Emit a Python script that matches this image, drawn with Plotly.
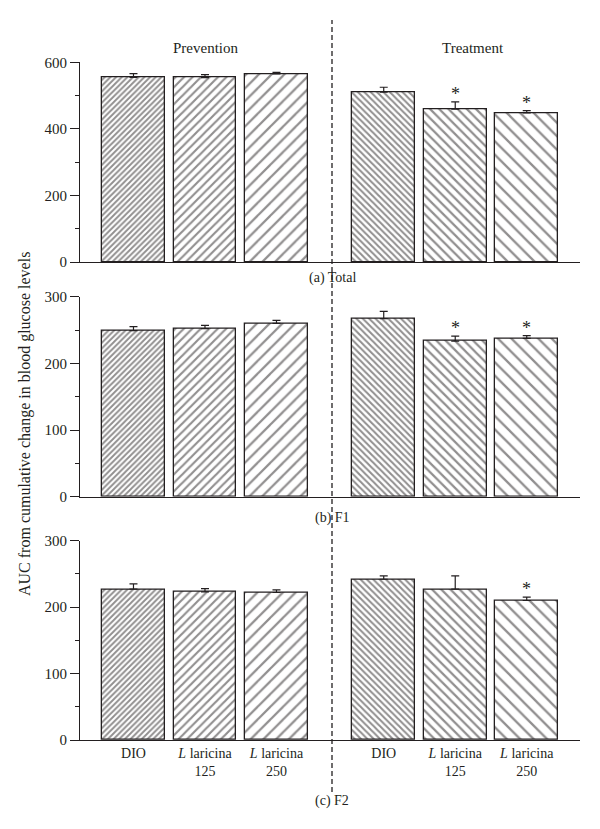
import plotly.graph_objects as go

# valores (AUC, média e EPM)
groups = ["Prevention", "Treatment"]
labels = ["DIO", "<i>L</i> laricina<br>125", "<i>L</i> laricina<br>250"]

total = [555, 554, 565, 510, 459, 448]
total_sem = [11, 9, 5, 15, 22, 7]
total_sig = [False, False, False, False, True, True]

f1 = [249, 252, 260, 267, 233.5, 237.5]
f1_sem = [6, 5, 4.5, 11, 7.5, 4]
f1_sig = [False, False, False, False, True, True]

f2 = [227, 223, 222, 242, 227, 210]
f2_sem = [8, 5, 4, 5, 20, 5]
f2_sig = [False, False, False, False, False, True]

panels = [
    ("(a) Total", total, total_sem, total_sig, 600, 200, 100),
    ("(b) F1", f1, f1_sem, f1_sig, 300, 100, 50),
    ("(c) F2", f2, f2_sem, f2_sig, 300, 100, 50),
]

FONT = "Liberation Serif"
INK = "#231f20"
OFF = 8  # margem padrão do <body>
W, H = 600 - 2 * OFF, 829 - 2 * OFF
L, R = 80 - OFF, 600 - 580 - OFF


def px_x(px):
    return (px - OFF - L) / (W - L - R)


def px_y(py):
    return 1 - (py - OFF) / H


# posições das barras: grupo 2 deslocado 1.5 unidade
pos = [i + g * 3.5 for g in range(len(groups)) for i in range(len(labels))]
tick_text = labels * len(groups)
shapes_ = ["/", "/", "/", "\\", "\\", "\\"]
sizes = [4, 6, 9, 4.5, 6.5, 9.5]
solid = [0.48, 0.36, 0.25, 0.46, 0.34, 0.24]

# domínios em pixels (topo, base)
px_dom = [(62.3, 262), (296.7, 496.7), (540.7, 740)]

fig = go.Figure()
for k, (title, vals, sem, sig, ymax, dtick, mtick) in enumerate(panels):
    n = "" if k == 0 else str(k + 1)
    fig.add_trace(go.Bar(
        x=pos, y=vals, width=0.88,
        marker=dict(
            color="white",
            line=dict(color=INK, width=1.3),
            pattern=dict(shape=shapes_, size=sizes, solidity=solid,
                         fgcolor=INK, bgcolor="white", fillmode="overlay"),
        ),
        error_y=dict(type="data", symmetric=False, array=sem,
                     arrayminus=[0] * len(sem), color=INK, thickness=1.2, width=4),
        xaxis="x" + n, yaxis="y" + n, showlegend=False,
    ))
    for xi, v, s, flag in zip(pos, vals, sem, sig):
        if flag:
            fig.add_annotation(x=xi, y=v + s, xref="x" + n, yref="y" + n,
                               text="*", showarrow=False, yanchor="bottom",
                               yshift=-4, font=dict(family=FONT, size=18, color=INK))
    top, bot = px_dom[k]
    fig.layout["yaxis" + n] = dict(
        domain=[px_y(bot), px_y(top)], range=[0, ymax], anchor="x" + n,
        showline=True, linecolor=INK, linewidth=1.2, showgrid=False, zeroline=False,
        ticks="outside", ticklen=9, tickwidth=1.2, tickcolor=INK, dtick=dtick,
        minor=dict(dtick=mtick, ticks="outside", ticklen=4, tickwidth=1.2, tickcolor=INK),
        tickfont=dict(family=FONT, size=15, color=INK),
    )
    fig.layout["xaxis" + n] = dict(
        domain=[0, 1], range=[-0.748, 6.245], anchor="y" + n,
        showline=True, linecolor=INK, linewidth=1.2, showgrid=False, zeroline=False,
        ticks="", tickvals=pos, ticktext=tick_text, showticklabels=(k == 2),
        tickfont=dict(family=FONT, size=14, color=INK),
    )
    cy = {0: 278, 1: 518, 2: 801}[k]
    fig.add_annotation(x=px_x(332), y=px_y(cy), xref="paper", yref="paper",
                       xanchor="center", yanchor="middle",
                       text=title, showarrow=False,
                       font=dict(family=FONT, size=14, color=INK))

for g, cx in zip(groups, [205.5, 472.5]):
    fig.add_annotation(x=px_x(cx), y=px_y(48), xref="paper", yref="paper",
                       xanchor="center", yanchor="middle",
                       text=g, showarrow=False, font=dict(family=FONT, size=15, color=INK))

fig.add_annotation(x=px_x(25), y=px_y(424), xref="paper", yref="paper",
                   xanchor="center", yanchor="middle",
                   text="AUC from cumulative change in blood glucose levels",
                   textangle=-90, showarrow=False,
                   font=dict(family=FONT, size=16, color=INK))

fig.add_shape(type="line", xref="paper", yref="paper", x0=px_x(332), x1=px_x(332),
              y0=px_y(792), y1=px_y(20),
              line=dict(color=INK, width=1.3, dash="5px,3px"))

fig.update_layout(
    width=W, height=H,
    margin=dict(l=L, r=R, t=0, b=0, autoexpand=False),
    plot_bgcolor="white", paper_bgcolor="white",
    bargap=0,
)
fig.write_html("out.html")
